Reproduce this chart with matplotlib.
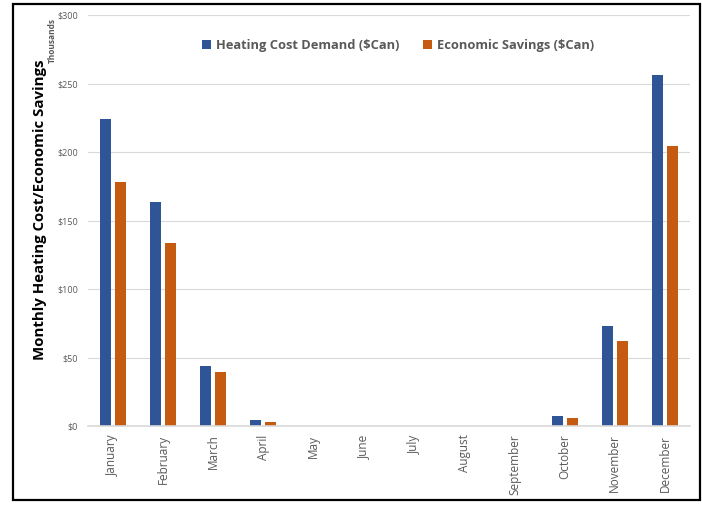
import numpy as np
import matplotlib
matplotlib.use("Agg")
import matplotlib.pyplot as plt
from matplotlib.patches import Rectangle

months = ["January", "February", "March", "April", "May", "June", "July",
          "August", "September", "October", "November", "December"]
heating_cost = [224, 163.5, 44, 4.4, 0, 0, 0, 0, 0, 7.3, 73.5, 256.5]
savings = [178.5, 134, 39.5, 2.9, 0, 0, 0, 0, 0, 5.8, 62.5, 204.5]
yticks = [0, 50, 100, 150, 200, 250, 300]

blue = "#2F5597"
orange = "#C55A11"
grey = "#595959"

plt.rcParams['font.family'] = ['Open Sans', 'DejaVu Sans']

fig = plt.figure(figsize=(7.02, 5.08), dpi=100)
ax = fig.add_axes([0.125, 0.161, 0.858, 0.809])

x = np.arange(len(months))
w = 0.22
ax.bar(x - 0.15, heating_cost, w, color=blue, label="Heating Cost Demand ($Can)")
ax.bar(x + 0.15, savings, w, color=orange, label="Economic Savings ($Can)")

ax.set_xlim(-0.5, 11.5)
ax.set_ylim(0, 300)
ax.set_yticks(yticks)
ax.set_yticklabels(["$%d" % v for v in yticks], fontsize=6.5, color=grey)
ax.set_xticks(x)
ax.set_xticklabels(months, rotation=90, fontsize=8.5, color=grey)
ax.tick_params(length=0, pad=6)
ax.tick_params(axis='y', pad=7)

ax.grid(axis='y', color="#d9d9d9", linewidth=0.8)
ax.set_axisbelow(True)
for s in ["top", "right", "left"]:
    ax.spines[s].set_visible(False)
ax.spines["bottom"].set_color("#d9d9d9")
ax.spines["bottom"].set_linewidth(1.2)

fig.text(0.057, 0.587, "Monthly Heating Cost/Economic Savings", rotation=90,
         ha='center', va='center', fontsize=10.8, fontweight='bold', color='black')
fig.text(0.075, 0.92, "Thousands", rotation=90, ha='center', va='center',
         fontsize=6, fontweight='bold', color=grey)

ax.legend(loc='upper center', bbox_to_anchor=(0.515, 0.97), ncol=2, frameon=False,
          handlelength=0.7, handleheight=0.7, columnspacing=1.8,
          handletextpad=0.4, labelcolor=grey,
          prop={'weight': 'bold', 'size': 9.3})

fig.patches.append(Rectangle((13 / 702, 8 / 508), 687 / 702, 496 / 508,
                             transform=fig.transFigure, fill=False,
                             edgecolor='black', linewidth=1.6))

fig.savefig("out.png", dpi=100)
